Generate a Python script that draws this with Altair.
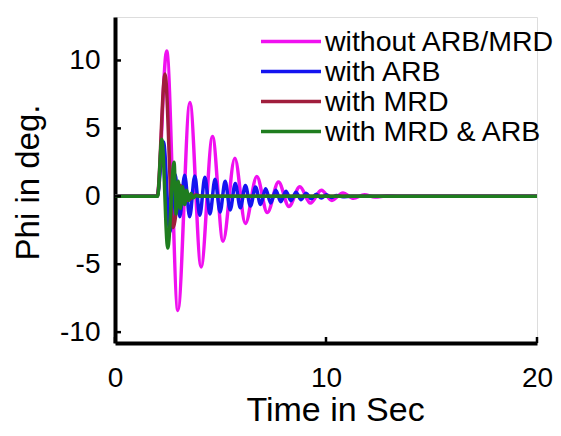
import altair as alt
import pandas as pd

names = ["without ARB/MRD", "with ARB", "with MRD", "with MRD & ARB"]
colors = ["#F010F0", "#1414F0", "#A01E3C", "#1F7D1F"]

t_mag = [0, 2.0, 2.45, 2.98, 3.55, 4.08, 4.62, 5.12, 5.68, 6.18, 6.72, 7.22, 7.75, 8.24, 8.76, 9.26, 9.78, 10.28, 10.8, 11.3, 11.82, 12.32, 12.9, 13.5, 20]
v_mag = [0, 0, 10.7, -8.4, 6.9, -5.2, 4.4, -3.3, 2.8, -2.0, 1.45, -1.2, 1.05, -0.75, 0.7, -0.5, 0.45, -0.3, 0.25, -0.15, 0.12, -0.06, 0.04, 0, 0]

t_arb = [0, 2.0, 2.3, 2.6, 2.85, 3.07, 3.3, 3.54, 3.78, 4.02, 4.26, 4.5, 4.74, 4.98, 5.22, 5.46, 5.7, 5.94, 6.18, 6.42, 6.66, 6.9, 7.14, 7.38, 7.62, 7.86, 8.1, 8.34, 8.58, 8.82, 9.06, 9.3, 9.54, 9.78, 10.02, 10.26, 10.5, 10.8, 11.2, 20]
v_arb = [0, 0, 4.0, -2.6, 1.6, -1.5, 1.55, -1.5, 1.5, -1.4, 1.4, -1.3, 1.25, -1.15, 1.1, -1.0, 0.95, -0.85, 0.8, -0.72, 0.68, -0.6, 0.55, -0.5, 0.45, -0.4, 0.37, -0.32, 0.3, -0.25, 0.22, -0.18, 0.16, -0.13, 0.11, -0.08, 0.06, -0.03, 0, 0]

t_mrd = [0, 2.0, 2.37, 2.75, 3.1, 3.45, 3.8, 4.2, 20]
v_mrd = [0, 0, 9.0, -2.3, 0.8, -0.3, 0.1, 0, 0]

t_both = [0, 2.02, 2.22, 2.5, 2.8, 2.9, 3.0, 3.1, 3.2, 3.3, 3.4, 3.5, 3.6, 3.7, 3.85, 4.0, 20]
v_both = [0, 0, 4.2, -3.8, 2.5, -1.3, 1.1, -0.9, 0.7, -0.6, 0.45, -0.3, 0.2, -0.1, 0.05, 0, 0]

x_ticks = [0, 10, 20]
y_ticks = [-10, -5, 0, 5, 10]

rows = []
for name, ts, vs in zip(names, [t_mag, t_arb, t_mrd, t_both], [v_mag, v_arb, v_mrd, v_both]):
    for t, v in zip(ts, vs):
        rows.append({"series": name, "t": t, "phi": v})
df = pd.DataFrame(rows)

W, H = 422, 326
FONT = "Liberation Sans"

xscale = alt.Scale(domain=[0, 20], nice=False, zero=False)
yscale = alt.Scale(domain=[-10.8, 13.2], nice=False, zero=False)

xaxis = alt.Axis(title="Time in Sec", values=x_ticks, ticks=False, grid=False,
                 domainColor="black", domainWidth=4, labelFontSize=28, labelFont=FONT,
                 labelColor="black", labelPadding=21, labelFlush=False,
                 titleFontSize=34, titleFont=FONT,
                 titleFontWeight="normal", titleColor="black", titleX=220, titleY=50,
                 labelExpr="'' + datum.value")
yaxis = alt.Axis(title="Phi in deg.", values=y_ticks, ticks=False, grid=False,
                 domainColor="black", domainWidth=4, labelFontSize=28, labelFont=FONT,
                 labelColor="black", labelPadding=15, labelFlush=False,
                 titleFontSize=33, titleFont=FONT,
                 titleFontWeight="normal", titleColor="black", titleX=-70, titleY=165,
                 labelExpr="'' + datum.value")

color = alt.Color("series:N", scale=alt.Scale(domain=names, range=colors),
                  legend=alt.Legend(title=None, orient="none", legendX=144, legendY=10,
                                    symbolType="stroke", symbolSize=3600, symbolStrokeWidth=3.5,
                                    labelFontSize=28.5, labelFont=FONT, labelColor="black",
                                    labelOffset=2, labelLimit=0, clipHeight=29, rowPadding=1,
                                    padding=0))

layers = []
for name in names:
    layers.append(
        alt.Chart(df).transform_filter(alt.datum.series == name)
        .mark_line(interpolate="monotone", strokeWidth=3.5)
        .encode(x=alt.X("t:Q", scale=xscale, axis=xaxis),
                y=alt.Y("phi:Q", scale=yscale, axis=yaxis),
                color=color)
    )

xt = alt.Chart(pd.DataFrame({"v": x_ticks})).mark_rule(color="black", strokeWidth=2.5).encode(
    x=alt.X("v:Q", scale=xscale), y=alt.value(H - 6), y2=alt.value(H))
yt = alt.Chart(pd.DataFrame({"v": y_ticks})).mark_rule(color="black", strokeWidth=2.5).encode(
    y=alt.Y("v:Q", scale=yscale), x=alt.value(0), x2=alt.value(6))

chart = alt.layer(*layers, xt, yt).properties(
    width=W, height=H,
    autosize=alt.AutoSizeParams(type="none"),
    padding={"left": 107, "top": 9, "right": 16, "bottom": 85},
).configure_view(stroke=None).configure(background="white")

chart.save("out.html", embed_options={"renderer": "svg", "actions": False})
